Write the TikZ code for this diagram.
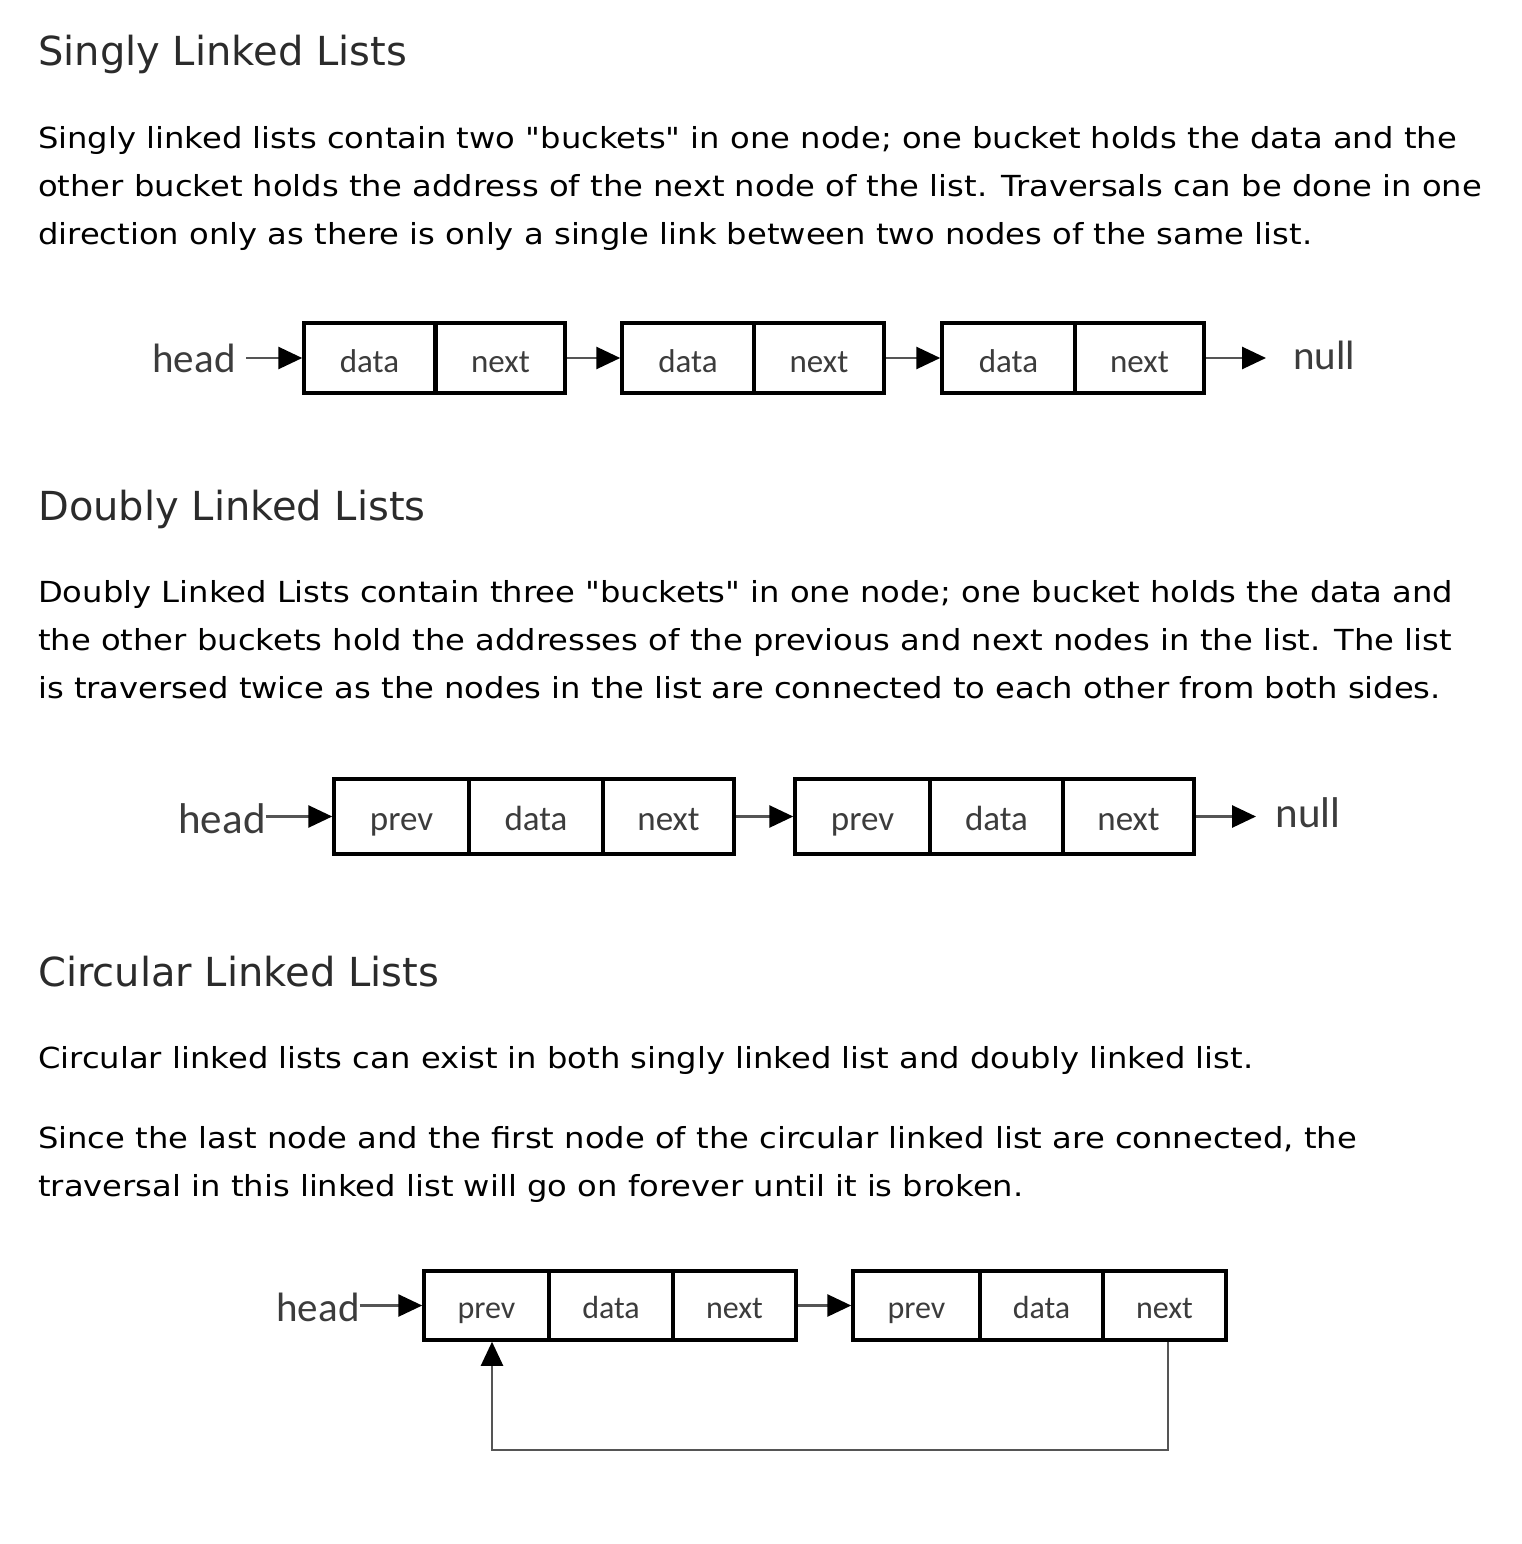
\documentclass[tikz,border=0pt]{standalone}
\usepackage{fontspec}
\setmainfont{DejaVu Sans}
\newfontfamily\bodyfont[FakeStretch=1.11]{DejaVu Sans}
\newfontfamily\diagfont{Carlito}
\usetikzlibrary{arrows.meta}
\definecolor{headc}{HTML}{2B2B2B}
\definecolor{diagtxt}{HTML}{3C3C3C}
\definecolor{linkc}{HTML}{555555}
\newcommand{\dq}{\char34\relax}
\begin{document}
\begin{tikzpicture}[x=1pt,y=-1pt,
  heading/.style={anchor=base west,inner sep=0pt,text=headc,font=\fontsize{40}{48}\selectfont},
  body/.style={anchor=base west,inner sep=0pt,text=black,font=\bodyfont\fontsize{29}{48}\selectfont},
  cell/.style={draw=black,line width=3.5pt,inner sep=0pt,text=diagtxt,anchor=center,text depth=0pt},
  lab/.style={inner sep=0pt,text=diagtxt,anchor=base},
  link/.style={draw=linkc,line width=2.8pt,-{Triangle[length=24pt,width=22pt,fill=black,color=black]}},
  loopl/.style={draw=linkc,line width=2.2pt}
]
\useasboundingbox[fill=white] (0,0) rectangle (1522,1544);

% ---------- Singly ----------
\node[heading] (h1) at (38,66) {Singly Linked Lists};
\node[body] (b11) at (38,148) {Singly linked lists contain two \dq buckets\dq\ in one node; one bucket holds the data and the};
\node[body] (b12) at (38,196) {other bucket holds the address of the next node of the list. Traversals can be done in one};
\node[body] (b13) at (38,244) {direction only as there is only a single link between two nodes of the same list.};

\begin{scope}[every node/.append style={font=\diagfont\fontsize{33}{33}\selectfont},
  cell/.append style={text height=28pt}]
\node[lab,font=\diagfont\fontsize{41}{41}\selectfont] (sh) at (194,372) {head};
\node[cell,minimum width=131pt,minimum height=70pt] (s1a) at (369.5,358) {data};
\node[cell,minimum width=129pt,minimum height=70pt] (s1b) at (500.5,358) {next};
\node[cell,minimum width=132pt,minimum height=70pt] (s2a) at (688,358) {data};
\node[cell,minimum width=130pt,minimum height=70pt] (s2b) at (819,358) {next};
\node[cell,minimum width=133pt,minimum height=70pt] (s3a) at (1008.5,358) {data};
\node[cell,minimum width=129pt,minimum height=70pt] (s3b) at (1139.5,358) {next};
\node[lab,font=\diagfont\fontsize{41}{41}\selectfont] (sn) at (1324,369) {null};
\end{scope}
\coordinate (snt) at (1266,358);
\coordinate (shs) at (246,358);
\draw[link] (shs) -- (s1a.west);
\draw[link] (s1b.east) -- (s2a.west);
\draw[link] (s2b.east) -- (s3a.west);
\draw[link] (s3b.east) -- (snt);

% ---------- Doubly ----------
\node[heading] (h2) at (38,520) {Doubly Linked Lists};
\node[body] (b21) at (38,602) {Doubly Linked Lists contain three \dq buckets\dq\ in one node; one bucket holds the data and};
\node[body] (b22) at (38,650) {the other buckets hold the addresses of the previous and next nodes in the list. The list};
\node[body] (b23) at (38,698) {is traversed twice as the nodes in the list are connected to each other from both sides.};

\begin{scope}[every node/.append style={font=\diagfont\fontsize{35}{35}\selectfont},
  cell/.append style={text height=27pt}]
\node[lab,font=\diagfont\fontsize{43}{43}\selectfont] (dh) at (222,833) {head};
\node[cell,minimum width=135pt,minimum height=75pt] (d1a) at (401.5,816.5) {prev};
\node[cell,minimum width=134pt,minimum height=75pt] (d1b) at (536,816.5) {data};
\node[cell,minimum width=131pt,minimum height=75pt] (d1c) at (668.5,816.5) {next};
\node[cell,minimum width=135pt,minimum height=75pt] (d2a) at (862.5,816.5) {prev};
\node[cell,minimum width=133pt,minimum height=75pt] (d2b) at (996.5,816.5) {data};
\node[cell,minimum width=131pt,minimum height=75pt] (d2c) at (1128.5,816.5) {next};
\node[lab,font=\diagfont\fontsize{43}{43}\selectfont] (dn) at (1308,827) {null};
\end{scope}
\coordinate (dnt) at (1256,816.5);
\draw[link] (dh.east |- d1a.west) -- (d1a.west);
\draw[link] (d1c.east) -- (d2a.west);
\draw[link] (d2c.east) -- (dnt);

% ---------- Circular ----------
\node[heading] (h3) at (38,986) {Circular Linked Lists};
\node[body] (b31) at (38,1068) {Circular linked lists can exist in both singly linked list and doubly linked list.};
\node[body] (b32) at (38,1148) {Since the last node and the first node of the circular linked list are connected, the};
\node[body] (b33) at (38,1196) {traversal in this linked list will go on forever until it is broken.};

\begin{scope}[every node/.append style={font=\diagfont\fontsize{32}{32}\selectfont},
  cell/.append style={text height=25pt}]
\node[lab,font=\diagfont\fontsize{41}{41}\selectfont] (ch) at (318,1321) {head};
\node[cell,minimum width=125pt,minimum height=69pt] (c1a) at (486.5,1305.5) {prev};
\node[cell,minimum width=124pt,minimum height=69pt] (c1b) at (611,1305.5) {data};
\node[cell,minimum width=123pt,minimum height=69pt] (c1c) at (734.5,1305.5) {next};
\node[cell,minimum width=127pt,minimum height=69pt] (c2a) at (916.5,1305.5) {prev};
\node[cell,minimum width=123pt,minimum height=69pt] (c2b) at (1041.5,1305.5) {data};
\node[cell,minimum width=123pt,minimum height=69pt] (c2c) at (1164.5,1305.5) {next};
\end{scope}
\draw[link] (ch.east |- c1a.west) -- (c1a.west);
\draw[link] (c1c.east) -- (c2a.west);
\coordinate (lr) at (1168,1450);
\coordinate (ll) at (492,1450);
\coordinate (lu) at (492,1390);
\draw[loopl] (c2c.south -| lr) -- (lr) -- (ll) -- (lu);
\draw[link,line width=2.2pt] (lu) -- (c1a.south -| ll);
\end{tikzpicture}
\end{document}
